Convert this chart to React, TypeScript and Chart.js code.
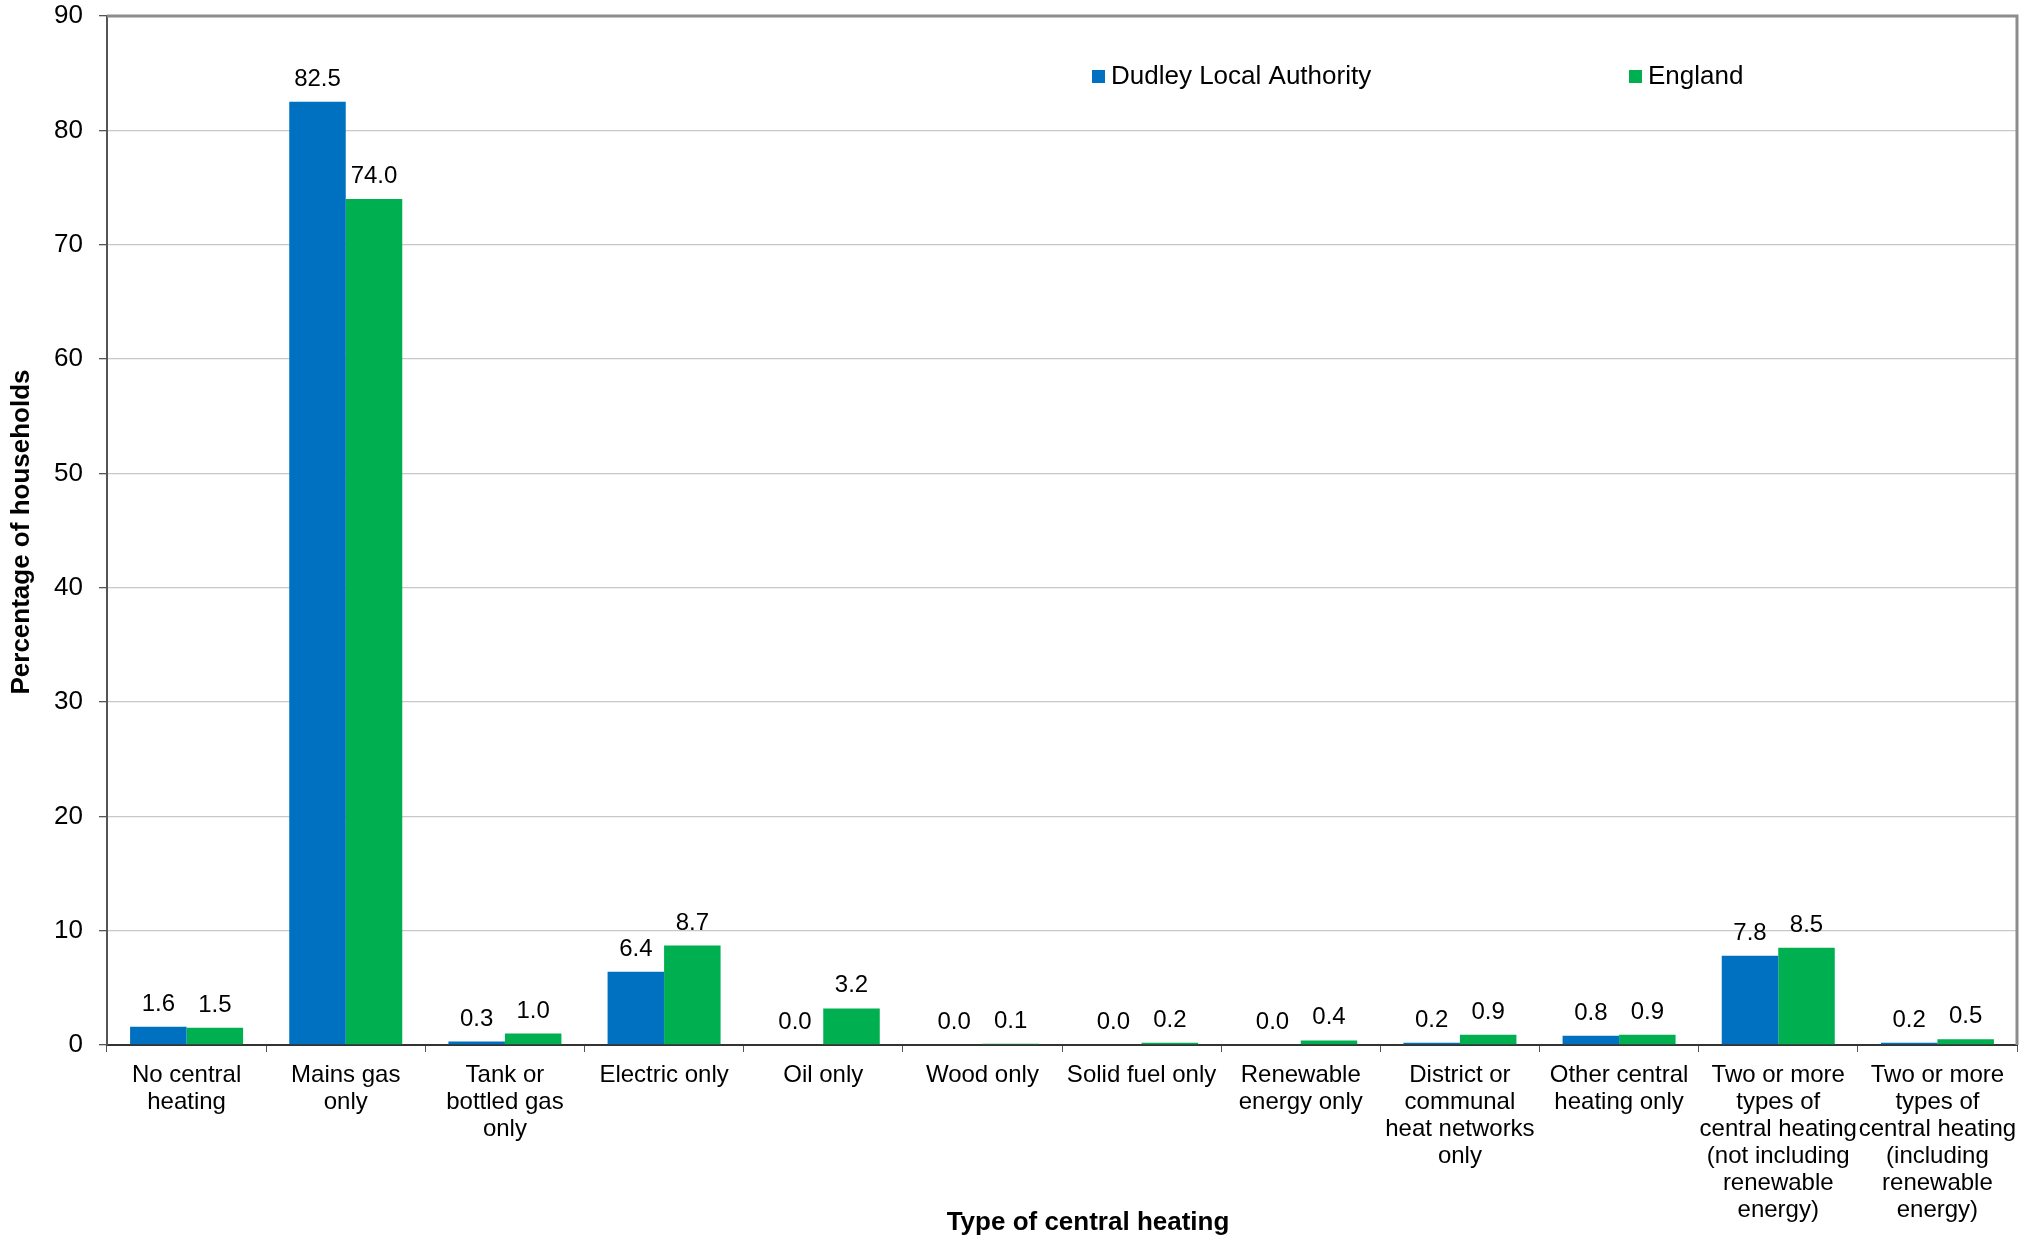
import React, { useEffect, useRef } from "react";
import { Chart, registerables } from "chart.js";

Chart.register(...registerables);

const categories: string[][] = [
  ["No central", "heating"],
  ["Mains gas", "only"],
  ["Tank or", "bottled gas", "only"],
  ["Electric only"],
  ["Oil only"],
  ["Wood only"],
  ["Solid fuel only"],
  ["Renewable", "energy only"],
  ["District or", "communal", "heat networks", "only"],
  ["Other central", "heating only"],
  ["Two or more", "types of", "central heating", "(not including", "renewable", "energy)"],
  ["Two or more", "types of", "central heating", "(including", "renewable", "energy)"],
];

const dudleyValues: number[] = [1.6, 82.5, 0.3, 6.4, 0.0, 0.0, 0.0, 0.0, 0.2, 0.8, 7.8, 0.2];
const englandValues: number[] = [1.5, 74.0, 1.0, 8.7, 3.2, 0.1, 0.2, 0.4, 0.9, 0.9, 8.5, 0.5];

const seriesNames: string[] = ["Dudley Local Authority", "England"];
const seriesColors: string[] = ["#0070C0", "#00B050"];

const yTitle = "Percentage of households";
const xTitle = "Type of central heating";

const FONT = '"Liberation Sans", Arial, sans-serif';

const decorPlugin = {
  id: "decor",
  afterDatasetsDraw(chart: any) {
    const ctx = chart.ctx;
    const area = chart.chartArea;
    ctx.save();
    // top & right border
    ctx.strokeStyle = "#8c8c8c";
    ctx.lineWidth = 3;
    ctx.beginPath();
    ctx.moveTo(area.left, area.top);
    ctx.lineTo(area.right, area.top);
    ctx.lineTo(area.right, area.bottom);
    ctx.stroke();

    // data labels
    ctx.fillStyle = "#000";
    ctx.font = `24px ${FONT}`;
    ctx.textAlign = "center";
    ctx.textBaseline = "alphabetic";
    chart.data.datasets.forEach((ds: any, di: number) => {
      const meta = chart.getDatasetMeta(di);
      meta.data.forEach((bar: any, i: number) => {
        const v = ds.data[i];
        ctx.fillText(Number(v).toFixed(1), bar.x, bar.y - 16);
      });
    });

    // legend
    const legendItems = [
      { x: 1092, text: seriesNames[0], color: seriesColors[0] },
      { x: 1629, text: seriesNames[1], color: seriesColors[1] },
    ];
    ctx.font = `26px ${FONT}`;
    ctx.textAlign = "left";
    ctx.textBaseline = "middle";
    legendItems.forEach((it) => {
      ctx.fillStyle = it.color;
      ctx.fillRect(it.x, 70, 13, 13);
      ctx.fillStyle = "#000";
      ctx.fillText(it.text, it.x + 19, 77);
    });

    // axis titles
    ctx.font = `bold 26px ${FONT}`;
    ctx.textAlign = "center";
    ctx.textBaseline = "middle";
    ctx.fillText(xTitle, 1088, 1223);
    ctx.translate(22, 532);
    ctx.rotate(-Math.PI / 2);
    ctx.fillText(yTitle, 0, 0);
    ctx.restore();
  },
};

export default function App() {
  const canvasRef = useRef<HTMLCanvasElement | null>(null);

  useEffect(() => {
    if (!canvasRef.current) return;
    const chart = new Chart(canvasRef.current, {
      type: "bar",
      data: {
        labels: categories,
        datasets: [
          {
            label: seriesNames[0],
            data: dudleyValues,
            backgroundColor: seriesColors[0],
            categoryPercentage: 0.71,
            barPercentage: 1.0,
          },
          {
            label: seriesNames[1],
            data: englandValues,
            backgroundColor: seriesColors[1],
            categoryPercentage: 0.71,
            barPercentage: 1.0,
          },
        ],
      },
      options: {
        animation: false,
        responsive: false,
        layout: { padding: { top: 16, right: 24, bottom: 0, left: 0 } },
        plugins: {
          legend: { display: false },
          tooltip: { enabled: false },
        },
        scales: {
          x: {
            offset: true,
            grid: {
              offset: true,
              drawOnChartArea: false,
              drawTicks: true,
              tickLength: 7,
              color: "#555",
              tickColor: "#555",
            },
            border: { color: "#333", width: 2 },
            ticks: {
              color: "#000",
              font: { family: FONT, size: 24, lineHeight: 1.125 },
              maxRotation: 0,
              minRotation: 0,
              autoSkip: false,
              padding: 10,
            },
            afterFit: (scale: any) => {
              scale.height = 194;
              scale.paddingLeft = 0;
              scale.paddingRight = 0;
            },
          },
          y: {
            min: 0,
            max: 90,
            ticks: {
              stepSize: 10,
              color: "#000",
              font: { family: FONT, size: 26 },
              padding: 16,
            },
            grid: {
              color: "#c8c8c8",
              lineWidth: 1.3,
              tickLength: 8,
              tickColor: "#555",
            },
            border: { color: "#555", width: 2 },
            afterFit: (scale: any) => {
              scale.width = 107;
              scale.paddingTop = 0;
              scale.paddingBottom = 0;
            },
          },
        },
      },
      plugins: [decorPlugin],
    });
    return () => chart.destroy();
  }, []);

  return (
    <div style={{ position: "absolute", left: 0, top: 0, width: 2041, height: 1239, background: "#fff" }}>
      <canvas ref={canvasRef} width={2041} height={1239} style={{ display: "block" }} />
    </div>
  );
}
